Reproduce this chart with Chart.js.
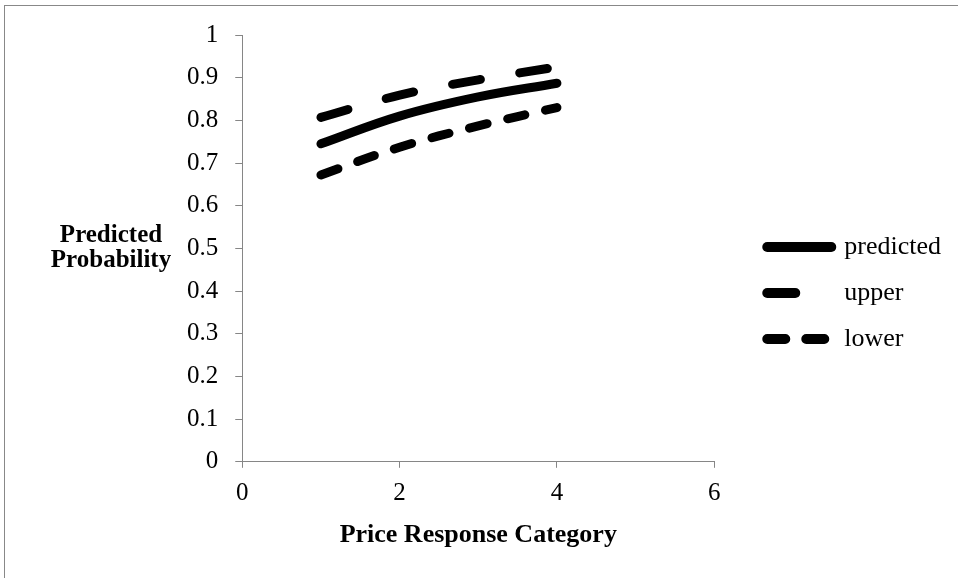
<!DOCTYPE html>
<html>
<head>
<meta charset="utf-8">
<script src="https://cdn.jsdelivr.net/npm/chart.js@4"></script>
<style>
    body { margin: 0; background: #fff; }
    #wrap { position: absolute; left: 0; top: 0; width: 958px; height: 578px; }
    #frame { position: absolute; left: 4px; top: 5px; width: 1000px; height: 1000px;
             border-left: 1px solid #888; border-top: 1px solid #888; pointer-events: none; }
</style>
</head>
<body>
<div id="wrap"><canvas id="probChart"></canvas></div>
<div id="frame"></div>
<script>

const categories = [1, 2, 3, 4];
const predicted = [0.745, 0.81, 0.855, 0.887];
const upper = [0.807, 0.859, 0.895, 0.925];
const lower = [0.672, 0.737, 0.787, 0.83];

const seriesNames = ["predicted", "upper", "lower"];
const xTitle = "Price Response Category";
const yTitle = ["Predicted", "Probability"];

const axisGrey = "#868686";

Chart.defaults.font.family = "'Liberation Serif', 'Times New Roman', serif";
Chart.defaults.color = "#000";


// y title sits horizontally left of the axis, so draw it ourselves
const yTitlePlugin = {
    id: "yTitle",
    afterDraw(chart) {
        const ctx = chart.ctx;
        ctx.save();
        ctx.font = "bold 25px 'Liberation Serif', serif";
        ctx.fillStyle = "#000";
        ctx.textAlign = "center";
        ctx.textBaseline = "alphabetic";
        ctx.fillText(yTitle[0], 111, 242);
        ctx.fillText(yTitle[1], 111, 267);
        ctx.restore();
    }
};


function points(values) {
    return categories.map((c, i) => ({ x: c, y: values[i] }));
}


function makeSet(label, values, dash) {
    return {
        label: label,
        data: points(values),
        borderColor: "#000",
        backgroundColor: "#000",
        borderWidth: 9,
        borderDash: dash,
        borderCapStyle: "round",
        borderJoinStyle: "round",
        pointRadius: 0,
        tension: 0.4,
        fill: false
    };
}


// keep the dash of each line in its legend sample
function legendLabels(chart) {
    const items = Chart.defaults.plugins.legend.labels.generateLabels(chart);
    return items.map(item => {
        const ds = chart.data.datasets[item.datasetIndex];
        item.lineDash = ds.borderDash;
        item.lineCap = "round";
        item.lineWidth = 10;
        item.strokeStyle = "#000";
        item.fillStyle = "#000";
        item.pointStyle = "line";
        return item;
    });
}


new Chart(document.getElementById("probChart"), {

    type: "line",

    data: {
        datasets: [
            makeSet(seriesNames[0], predicted, []),
            makeSet(seriesNames[1], upper, [28, 40]),
            makeSet(seriesNames[2], lower, [18, 21])
        ]
    },

    options: {
        responsive: true,
        maintainAspectRatio: false,
        animation: false,
        layout: {
            padding: { left: 170, top: 35, right: 7, bottom: 27 }
        },
        plugins: {
            tooltip: { enabled: false },
            legend: {
                position: "right",
                maxWidth: 260,
                labels: {
                    usePointStyle: true,
                    pointStyle: "line",
                    pointStyleWidth: 64,
                    boxWidth: 64,
                    padding: 20,
                    font: { size: 26 },
                    color: "#000",
                    generateLabels: legendLabels
                }
            }
        },
        scales: {
            x: {
                type: "linear",
                min: 0,
                max: 6,
                ticks: { stepSize: 2, padding: 11, font: { size: 25 }, color: "#000" },
                grid: { drawOnChartArea: false, tickLength: 6, color: axisGrey, tickColor: axisGrey },
                border: { color: axisGrey, width: 1 },
                title: {
                    display: true,
                    text: xTitle,
                    font: { size: 26, weight: "bold" },
                    color: "#000",
                    padding: { top: 0, bottom: 0 }
                }
            },
            y: {
                min: 0,
                max: 1,
                ticks: {
                    stepSize: 0.1,
                    padding: 17,
                    font: { size: 25 },
                    color: "#000",
                    callback: v => String(Math.round(v * 10) / 10)
                },
                grid: { drawOnChartArea: false, tickLength: 7, color: axisGrey, tickColor: axisGrey },
                border: { color: axisGrey, width: 1 }
            },
            gap: {
                // empty right-hand scale, only keeps the legend off the plot
                type: "linear",
                axis: "y",
                position: "right",
                display: true,
                ticks: { display: false },
                grid: { display: false },
                border: { display: false },
                afterFit(scale) { scale.width = 33; }
            }
        }
    },

    plugins: [yTitlePlugin]

});

</script>
</body>
</html>
